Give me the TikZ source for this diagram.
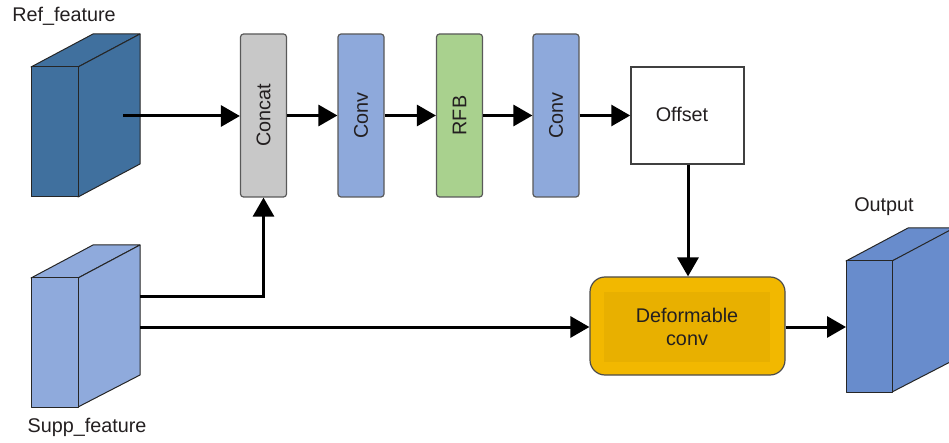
\documentclass[tikz,border=0pt]{standalone}
\usepackage{fontspec}
\setmainfont{Liberation Sans}
\usetikzlibrary{arrows.meta,calc}
\definecolor{refblue}{RGB}{64,112,158}
\definecolor{suppblue}{RGB}{143,170,220}
\definecolor{outblue}{RGB}{104,140,204}
\definecolor{convblue}{RGB}{142,169,219}
\definecolor{rfbgreen}{RGB}{169,209,142}
\definecolor{concatgrey}{RGB}{200,200,200}
\definecolor{defgold}{RGB}{242,184,0}
\definecolor{definner}{RGB}{232,176,0}
\definecolor{txt}{RGB}{35,31,32}
\begin{document}
\begin{tikzpicture}[x=1pt,y=-1pt,
  font=\fontsize{19.8}{23}\selectfont, text=txt,
  blk/.style={draw=black!65, line width=1.2pt, rounded corners=3pt, minimum width=46pt, minimum height=163pt, inner sep=0pt},
  conn/.style={line width=3pt, -{Triangle[length=19pt,width=21pt]}},
  cubeedge/.style={draw=black!85, line width=1pt, line join=round}
]
\useasboundingbox (0,0) rectangle (949,443);
% Ref cube
\filldraw[cubeedge, fill=refblue] (31,67) -- (93,34) -- (140,34) -- (78,67) -- cycle;
\filldraw[cubeedge, fill=refblue] (78,67) -- (140,34) -- (140,164) -- (78,197) -- cycle;
\filldraw[cubeedge, fill=refblue] (31,67) rectangle (78,197);
% Supp cube
\filldraw[cubeedge, fill=suppblue] (31,278) -- (93,245) -- (140,245) -- (78,278) -- cycle;
\filldraw[cubeedge, fill=suppblue] (78,278) -- (140,245) -- (140,375) -- (78,407) -- cycle;
\filldraw[cubeedge, fill=suppblue] (31,278) rectangle (78,407);
% Output cube
\filldraw[cubeedge, fill=outblue] (846,261) -- (908,228) -- (960,228) -- (892,261) -- cycle;
\filldraw[cubeedge, fill=outblue] (892,261) -- (954,228) -- (954,360) -- (892,392) -- cycle;
\filldraw[cubeedge, fill=outblue] (846,261) rectangle (892,392);

\coordinate (refout) at (123,116);
\coordinate (suppA) at (140,296);
\coordinate (suppB) at (140,327);
\coordinate (outin) at (846,327);

\node[anchor=center] (reflbl) at (64,16) {Ref\_feature};
\node[anchor=center] (supplbl) at (87,427) {Supp\_feature};
\node[anchor=center] (outlbl) at (884,207) {Output};

\node[blk, fill=concatgrey] (concat) at (263.5,115.5) {\rotatebox{90}{Concat}};
\node[blk, fill=convblue] (conv1) at (361,115.5) {\rotatebox{90}{Conv}};
\node[blk, fill=rfbgreen] (rfb) at (459.5,115.5) {\rotatebox{90}{RFB}};
\node[blk, fill=convblue] (conv2) at (556,115.5) {\rotatebox{90}{Conv}};
\node[draw=black!75, line width=1.5pt, fill=white, minimum width=113pt, minimum height=97pt, inner sep=0pt] (offset) at (687.5,115.5) {};
\node (offtxt) at (682,114) {Offset};

\node[draw=black!70, line width=1.2pt, fill=defgold, rounded corners=15pt, minimum width=195pt, minimum height=98pt, inner sep=0pt] (def) at (687.5,326) {};
\node[fill=definner, minimum width=166pt, minimum height=70pt, inner sep=0pt, align=center] (definner) at (687,327) {Deformable\\conv};

\draw[conn] (refout) -- (concat.west |- refout);
\draw[conn] (concat.east) -- (conv1.west);
\draw[conn] (conv1.east) -- (rfb.west);
\draw[conn] (rfb.east) -- (conv2.west);
\draw[conn] (conv2.east) -- (offset.west |- conv2.east);
\draw[conn] (offset.south -| 688,0) -- (def.north -| 688,0);
\draw[conn] (suppA) -| (concat.south);
\draw[conn] (suppB) -- (def.west |- suppB);
\draw[conn] (def.east |- outin) -- (outin);
\end{tikzpicture}
\end{document}
